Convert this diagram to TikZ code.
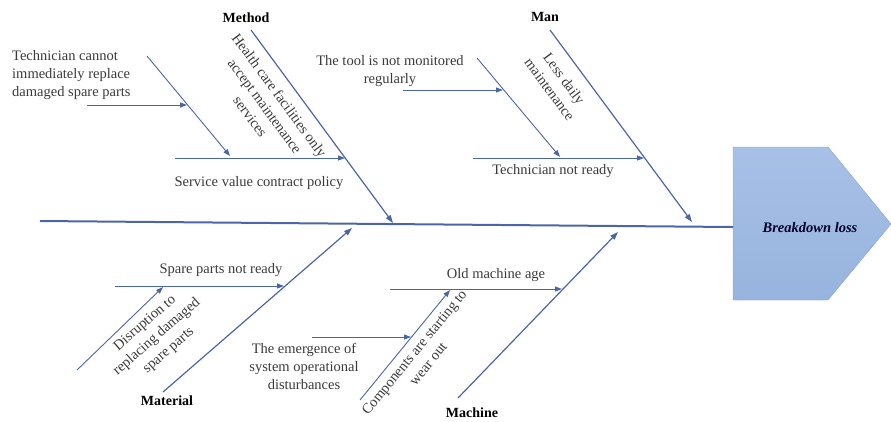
\documentclass[tikz,border=0pt]{standalone}
\usepackage{fontspec}
\setmainfont{Liberation Serif}
\usetikzlibrary{arrows.meta}
\definecolor{bone}{HTML}{4A66A8}
\definecolor{txt}{HTML}{3A3A3A}
\definecolor{headtop}{HTML}{A8C0E6}
\definecolor{headbot}{HTML}{97B4DE}
\tikzset{
  spine/.style={draw=bone, line width=2pt},
  bonearrow/.style={draw=bone, line width=1.2pt, -{Triangle[length=8pt,width=5.5pt]}},
  subarrow/.style={draw=bone, line width=0.9pt, -{Triangle[length=7pt,width=5pt]}},
  lbl/.style={font=\fontsize{14}{15}\selectfont\bfseries, text=black, inner sep=0pt},
  cause/.style={font=\fontsize{14.5}{18}\selectfont, text=txt, inner sep=0pt, align=center},
  headbox/.style={top color=headtop, bottom color=headbot, draw=headbot!90!black, line width=0.4pt},
}
\begin{document}
\begin{tikzpicture}[x=1pt,y=-1pt]
\useasboundingbox (0,0) rectangle (891,421);
% head
\draw[headbox] (733,147) -- (828,147) -- (891,224) -- (828,300) -- (733,300) -- cycle;
\node[font=\fontsize{14.5}{15}\selectfont\bfseries\itshape, text=black!85!blue] (effect) at (810,228) {Breakdown loss};
% spine
\coordinate (sL) at (40,221);
\coordinate (sR) at (733,227);
\draw[spine] (sL) -- (sR);
% ---- Method ----
\coordinate (mT) at (251,30);
\coordinate (mE) at (393,223);
\draw[bonearrow] (mT) -- (mE);
\node[lbl] (method) at (246,18) {Method};
\coordinate (svS) at (175,158);
\coordinate (svE) at (345,158);
\draw[subarrow] (svS) -- (svE);
\node[cause] (service) at (259,183) {Service value contract policy};
\coordinate (tdS) at (147,56);
\coordinate (tdE) at (230,156);
\draw[subarrow] (tdS) -- (tdE);
\coordinate (thS) at (87,105);
\coordinate (thE) at (187,105);
\draw[subarrow] (thS) -- (thE);
\node[cause, align=left, anchor=west] (tech) at (12,75) {Technician cannot\\immediately replace\\damaged spare parts};
\node[cause, rotate=-53.7] (health) at (265,106) {Health care facilities only\\accept maintenance\\services};
% ---- Man ----
\coordinate (nT) at (550,30);
\coordinate (nE) at (692,222);
\draw[bonearrow] (nT) -- (nE);
\node[lbl] (man) at (545,17) {Man};
\coordinate (trS) at (473,158);
\coordinate (trE) at (644,158);
\draw[subarrow] (trS) -- (trE);
\node[cause] (techready) at (553,171) {Technician not ready};
\coordinate (toS) at (477,58);
\coordinate (toE) at (560,157);
\draw[subarrow] (toS) -- (toE);
\coordinate (tlS) at (403,90);
\coordinate (tlE) at (503,90);
\draw[subarrow] (tlS) -- (tlE);
\node[cause] (tool) at (390,71) {The tool is not monitored\\regularly};
\node[cause, rotate=-53.5] (less) at (557,84) {Less daily\\maintenance};
% ---- Material ----
\coordinate (maS) at (163,392);
\coordinate (maE) at (352,228);
\draw[bonearrow] (maS) -- (maE);
\node[lbl] (material) at (167,401) {Material};
\coordinate (spS) at (115,286);
\coordinate (spE) at (284,286);
\draw[subarrow] (spS) -- (spE);
\node[cause] (spare) at (221,270) {Spare parts not ready};
\coordinate (dsS) at (77,370);
\coordinate (dsE) at (163,287);
\draw[subarrow] (dsS) -- (dsE);
\node[cause, rotate=41] (disrupt) at (157,337) {Disruption to\\replacing damaged\\spare parts};
% ---- Machine ----
\coordinate (mcS) at (458,398);
\coordinate (mcE) at (618,232);
\draw[bonearrow] (mcS) -- (mcE);
\node[lbl] (machine) at (472,413) {Machine};
\coordinate (olS) at (390,289);
\coordinate (olE) at (562,289);
\draw[subarrow] (olS) -- (olE);
\node[cause] (old) at (496,275) {Old machine age};
\coordinate (coS) at (360,400);
\coordinate (coE) at (450,290);
\draw[subarrow] (coS) -- (coE);
\coordinate (emS) at (312,337);
\coordinate (emE) at (411,337);
\draw[subarrow] (emS) -- (emE);
\node[cause] (emerg) at (304,366) {The emergence of\\system operational\\disturbances};
\node[cause, rotate=50.7] (comp) at (421,358) {Components are starting to\\wear out};
\end{tikzpicture}
\end{document}
